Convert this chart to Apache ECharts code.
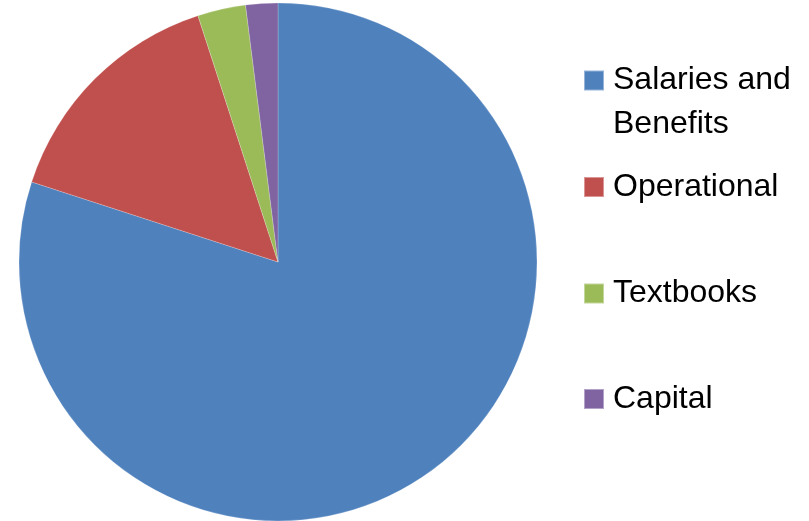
<!DOCTYPE html>
<html>
<head>
<meta charset="utf-8">
<script src="https://cdn.jsdelivr.net/npm/echarts@6/dist/echarts.min.js"></script>
<style>
  html, body { margin: 0; padding: 0; background: #fff; }
  #main { width: 809px; height: 521px; }
</style>
</head>
<body>
<div id="main"></div>
<script>
// budget share, percent
const categories = ['Salaries and Benefits', 'Operational', 'Textbooks', 'Capital'];
const values = [80, 15, 3, 2];
const colors = ['#4F81BD', '#C0504D', '#9BBB59', '#8064A2'];

const chart = echarts.init(document.getElementById('main'), null, { renderer: 'canvas' });

// legend rows: icon centres at roughly 80, 187, 293, 399
const legendTops = [14.5, 165, 271.5, 377];

const legendText = {
  fontFamily: 'Liberation Sans',
  fontSize: 32,
  color: '#000',
  lineHeight: 44,
  padding: [0, 0, 0, 4]
};

// first entry wraps onto two lines; a blank line on top keeps the icon on "Salaries and"
const legends = categories.map((name, i) => ({
  show: true,
  orient: 'vertical',
  left: 583,
  top: legendTops[i],
  padding: 0,
  itemWidth: 20,
  itemHeight: 20,
  icon: 'rect',
  selectedMode: false,
  data: [name],
  formatter: n => n === 'Salaries and Benefits' ? ' \nSalaries and\nBenefits' : n,
  textStyle: legendText
}));

const option = {
  animation: false,
  color: colors,
  legend: legends,
  series: [{
    type: 'pie',
    center: [278, 262],
    radius: 259,
    startAngle: 90,
    clockwise: true,
    label: { show: false },
    labelLine: { show: false },
    emphasis: { disabled: true },
    itemStyle: { borderColor: 'rgba(255,255,255,0.4)', borderWidth: 0.5 },
    data: categories.map((name, i) => ({ name: name, value: values[i] }))
  }]
};

chart.setOption(option);
</script>
</body>
</html>
